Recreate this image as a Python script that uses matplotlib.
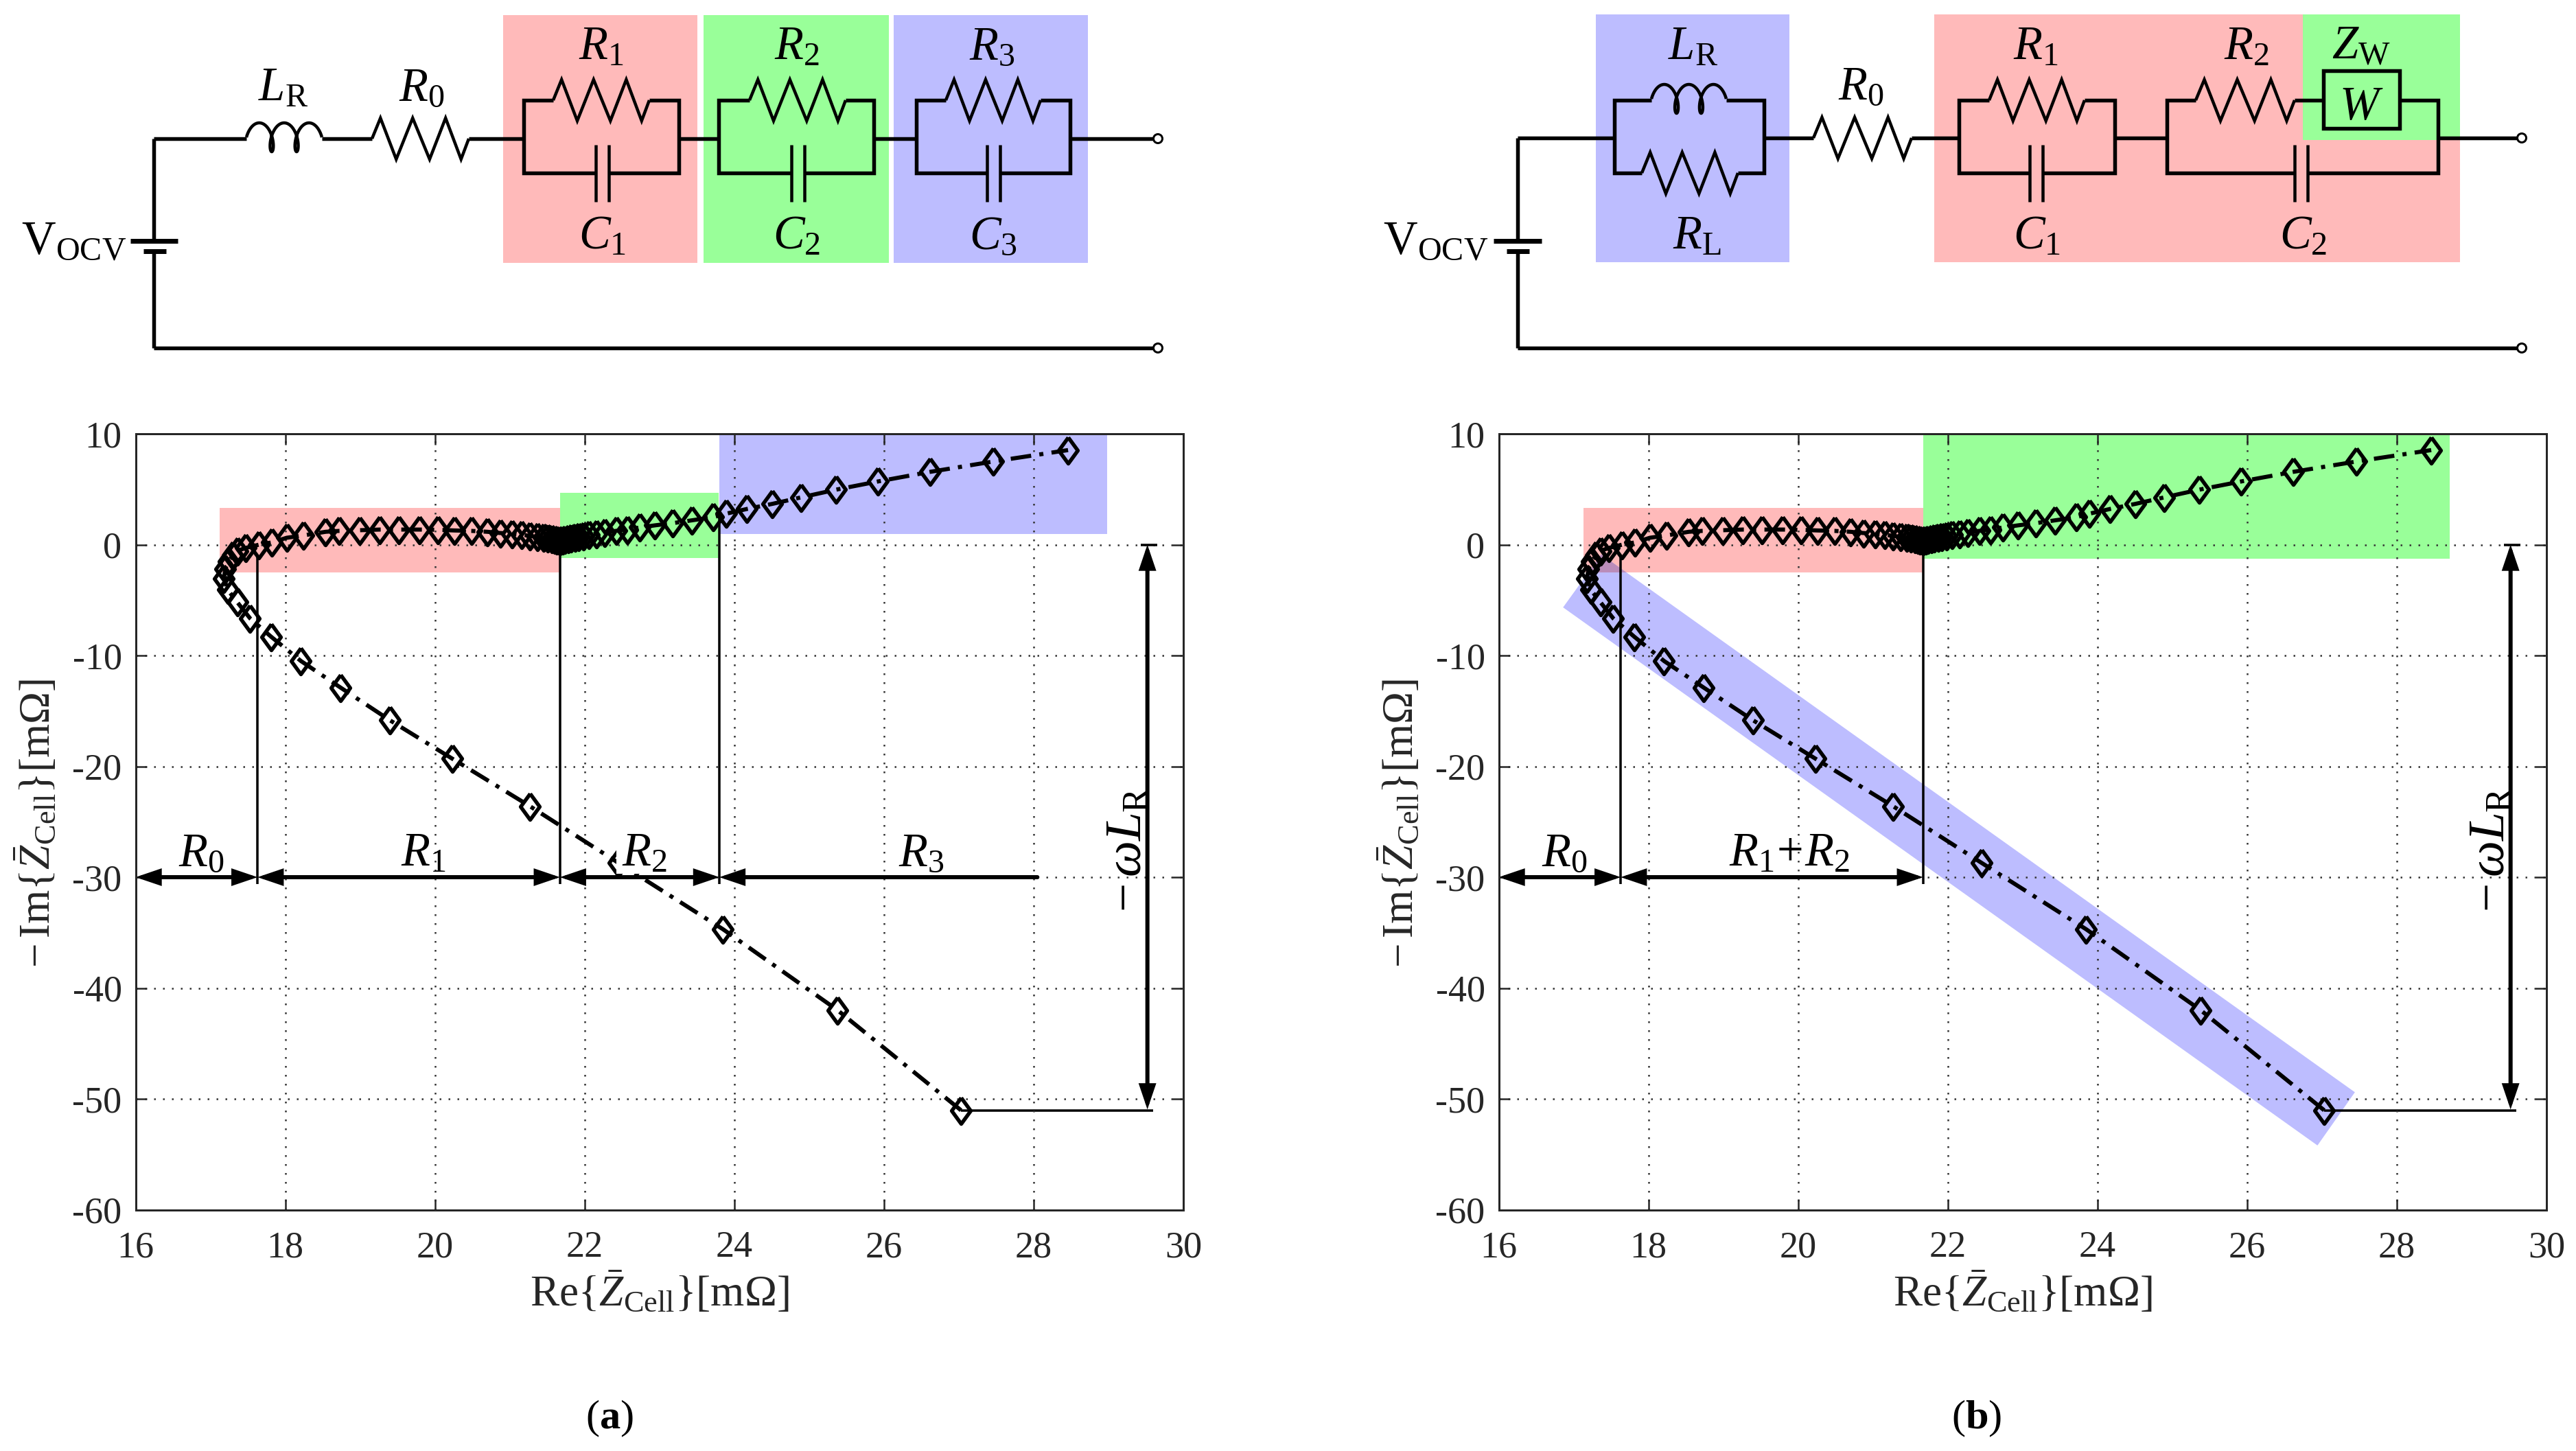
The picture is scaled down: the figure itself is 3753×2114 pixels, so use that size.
import numpy as np
import matplotlib
matplotlib.use("Agg")
import matplotlib.pyplot as plt
from matplotlib.markers import MarkerStyle
from matplotlib.patches import Rectangle, Polygon, Circle

plt.rcParams['font.family'] = ['Liberation Serif', 'DejaVu Serif']
plt.rcParams['mathtext.fontset'] = 'custom'
plt.rcParams['mathtext.rm'] = 'Liberation Serif'
plt.rcParams['mathtext.it'] = 'Liberation Serif:italic'
plt.rcParams['mathtext.bf'] = 'Liberation Serif:bold'

# ---------- data ----------
re_z = [27.03, 25.38, 23.85, 22.45, 21.27, 20.23, 19.40, 18.74, 18.21, 17.81, 17.53, 17.36, 17.23,
        17.18, 17.20, 17.24, 17.30, 17.36, 17.47, 17.65, 17.82, 18.02, 18.24, 18.54, 18.72, 18.99,
        19.26, 19.52, 19.79, 20.04, 20.26, 20.49, 20.70, 20.87, 21.03, 21.16, 21.27, 21.37, 21.45,
        21.51, 21.56, 21.60, 21.63, 21.65, 21.67, 21.69, 21.71, 21.74, 21.78, 21.82, 21.87, 21.92,
        21.98, 22.06, 22.16, 22.27, 22.42, 22.57, 22.74, 22.94, 23.18, 23.43, 23.72, 23.89, 24.17,
        24.51, 24.89, 25.36, 25.92, 26.62, 27.46, 28.46]
neg_im_z = [-51.03, -42.0, -34.7, -28.7, -23.6, -19.3, -15.85, -12.9, -10.5, -8.3, -6.65, -5.2, -4.07,
            -3.04, -2.17, -1.5, -0.97, -0.56, -0.3, 0.0, 0.2, 0.62, 0.83, 1.16, 1.24, 1.3,
            1.36, 1.36, 1.36, 1.34, 1.28, 1.24, 1.16, 1.05, 0.99, 0.89, 0.79, 0.7, 0.62,
            0.56, 0.5, 0.46, 0.42, 0.39, 0.37, 0.39, 0.42, 0.46, 0.52, 0.58, 0.66, 0.73,
            0.8, 0.89, 0.99, 1.1, 1.24, 1.36, 1.55, 1.74, 1.94, 2.19, 2.48, 2.79, 3.22,
            3.68, 4.26, 4.96, 5.7, 6.57, 7.5, 8.53]
x_ticks = [16, 18, 20, 22, 24, 26, 28, 30]
y_ticks = [-60, -50, -40, -30, -20, -10, 0, 10]
x_tick_labels = ["16", "18", "20", "22", "24", "26", "28", "30"]
y_tick_labels = ["-60", "-50", "-40", "-30", "-20", "-10", "0", "10"]
x_label = r"Re$\{\bar{Z}_{\mathrm{Cell}}\}$[m$\Omega$]"
y_label = r"$-\,$Im$\{\bar{Z}_{\mathrm{Cell}}\}$[m$\Omega$]"

# region bounds (x0, x1, y0, y1)
a_regions = [(17.12, 21.67, -2.48, 3.33, 'pink'), (21.67, 23.79, -1.18, 4.69, 'green'), (23.80, 28.98, 0.93, 10, 'blue')]
b_regions = [(17.13, 21.67, -2.48, 3.33, 'pink'), (21.67, 28.71, -1.24, 10, 'green')]
b_band = [(16.86, -5.66), (17.37, -0.89), (27.44, -49.4), (26.94, -54.2)]
a_spans = [(16.0, 17.63, r"$R_{\mathrm{0}}$", 16.88), (17.63, 21.67, r"$R_{\mathrm{1}}$", 19.85),
           (21.67, 23.80, r"$R_{\mathrm{2}}$", 22.80), (23.80, 28.05, r"$R_{\mathrm{3}}$", 26.50)]
b_spans = [(16.0, 17.63, r"$R_{\mathrm{0}}$", 16.88), (17.63, 21.67, r"$R_{\mathrm{1}}\!+\!R_{\mathrm{2}}$", 19.88)]

# ---------- style ----------
W, H = 3753, 2114
DPI = 300
PX = 72 / DPI
PINK, GREEN, BLUE, PURPLE = '#FFBABA', '#99FF99', '#BDBDFF', '#BA8CBA'
COL = {'pink': PINK, 'green': GREEN, 'blue': BLUE}
DARK = '#262626'
fig = plt.figure(figsize=(W / DPI, H / DPI), dpi=DPI)

bg = fig.add_axes([0, 0, 1, 1])
bg.set_xlim(0, W)
bg.set_ylim(H, 0)
bg.axis('off')
WIRE = 5.5 * PX
THIN = 4.5 * PX


def wire(xs, ys, lw=WIRE):
    bg.plot(xs, ys, color='k', lw=lw, solid_capstyle='butt', solid_joinstyle='miter', zorder=3)


def resistor(x0, x1, y, amp=30):
    f = np.array([0, .087, .25, .42, .595, .76, .92, 1.0])
    s = np.array([0, -1, 1, -1, 1, -1, 1, 0])
    wire(x0 + f * (x1 - x0), y + s * amp, lw=THIN)


def inductor(x0, x1, y):
    th = np.linspace(-np.pi / 2, 4.5 * np.pi, 300)
    b = 9.7
    c = ((x1 - x0) - 2 * b) / (5 * np.pi)
    wire(x0 + c * (th + np.pi / 2) + b * (np.sin(th) + 1), y - 2 - 21 * np.cos(th), lw=THIN)


def capacitor(xl, xr, y0, y1):
    wire([xl, xl], [y0, y1], lw=THIN)
    wire([xr, xr], [y0, y1], lw=THIN)


def rc_box(xl, xr, yt, yb, rl, rr, cl, cr, ymid=202):
    wire([rl, xl, xl, cl], [yt, yt, yb, yb])
    wire([rr, xr, xr, cr], [yt, yt, yb, yb])
    resistor(rl, rr, yt)
    capacitor(cl, cr, 211, 294)


def terminal(x, y):
    bg.add_patch(Circle((x, y), 6.5, fc='white', ec='k', lw=3 * PX, zorder=4))


def battery(x, ytop, ybot, long_x, short_x):
    wire([x, x], [ytop, 351])
    wire([x, x], [366, ybot])
    wire(long_x, [351, 351], lw=7 * PX)
    wire(short_x, [366, 366], lw=7 * PX)


def label(x, y, s, size=16.5, **kw):
    bg.text(x, y, s, fontsize=size, ha='center', va='baseline', color='k', zorder=5, **kw)


def rect(x0, x1, y0, y1, c):
    bg.add_patch(Rectangle((x0, y0), x1 - x0, y1 - y0, fc=c, ec='none', zorder=1))


# ---------- circuit (a) ----------
Y = 202
rect(733, 1016, 22, 383, PINK)
rect(1025, 1295, 22, 383, GREEN)
rect(1302, 1585, 22, 383, BLUE)
battery(224, Y, 507, [190, 259], [209, 242])
wire([224, 359], [Y, Y])
wire([224, 1681], [507, 507])
inductor(359, 469, Y)
wire([469, 542], [Y, Y])
resistor(542, 683, Y)
wire([683, 763], [Y, Y])
rc_box(763, 989, 146, 252, 806, 946, 868, 887)
wire([989, 1047], [Y, Y])
rc_box(1047, 1273, 146, 252, 1092, 1232, 1153, 1172)
wire([1273, 1335], [Y, Y])
rc_box(1335, 1559, 146, 252, 1378, 1516, 1438, 1457)
wire([1559, 1681], [Y, Y])
terminal(1687, Y)
terminal(1687, 507)
label(413, 146, r"$L_{\mathrm{R}}$")
label(614, 146, r"$R_{\mathrm{0}}$")
for xr, xc, s in [(876, 878, '1'), (1161, 1161, '2'), (1445, 1447, '3')]:
    label(xr, 86, rf"$R_{{\mathrm{{{s}}}}}$")
    label(xc, 362, rf"$C_{{\mathrm{{{s}}}}}$")
label(108, 370, r"$\mathrm{V}_{\mathrm{OCV}}$")

# ---------- circuit (b) ----------
rect(2325, 2607, 21, 382, BLUE)
rect(2818, 3584, 21, 382, PINK)
rect(3355, 3584, 21, 204, GREEN)
Y = 201
battery(2211, Y, 507, [2176, 2246], [2195, 2228])
wire([2211, 2352], [Y, Y])
wire([2211, 3668], [507, 507])
wire([2406, 2352, 2352, 2392], [146, 146, 252, 252])
wire([2515, 2570, 2570, 2532], [146, 146, 252, 252])
inductor(2406, 2515, 146)
resistor(2392, 2532, 252)
wire([2570, 2642], [Y, Y])
resistor(2642, 2785, Y)
wire([2785, 2854], [Y, Y])
rc_box(2854, 3081, 146, 252, 2898, 3037, 2957, 2976)
wire([3081, 3157], [Y, Y])
wire([3199, 3157, 3157, 3343], [146, 146, 252, 252])
wire([3362, 3552, 3552, 3496], [252, 252, 146, 146])
resistor(3199, 3343, 146)
capacitor(3343, 3362, 211, 294)
wire([3343, 3385], [146, 146])
bg.add_patch(Rectangle((3385, 103), 111, 84, fc='none', ec='k', lw=WIRE, zorder=3))
wire([3552, 3668], [Y, Y])
terminal(3674, Y)
terminal(3674, 507)
label(2467, 86, r"$L_{\mathrm{R}}$")
label(2472, 362, r"$R_{\mathrm{L}}$")
label(2711, 144, r"$R_{\mathrm{0}}$")
label(2966, 86, r"$R_{\mathrm{1}}$")
label(2968, 362, r"$C_{\mathrm{1}}$")
label(3273, 86, r"$R_{\mathrm{2}}$")
label(3356, 362, r"$C_{\mathrm{2}}$")
label(3440, 85, r"$Z_{\mathrm{W}}$")
label(3440, 174, r"$W$")
label(2092, 370, r"$\mathrm{V}_{\mathrm{OCV}}$")

# ---------- plots ----------
diamond = MarkerStyle([(0, 1), (0.73, 0), (0, -1), (-0.73, 0), (0, 1)], joinstyle='miter')
ARROW = "<|-|>,head_length=6.2,head_width=2.1"
ARROW_R = "<|-,head_length=6.2,head_width=2.1"
LAB = 16.5


def panel(left, regions, spans, vlines):
    ax = fig.add_axes([left / W, 1 - 1762.5 / H, 1526.5 / W, (1762.5 - 632) / H])
    ax.set_xlim(16, 30)
    ax.set_ylim(-60, 10)
    ax.set_xticks(x_ticks)
    ax.set_xticklabels(x_tick_labels)
    ax.set_yticks(y_ticks)
    ax.set_yticklabels(y_tick_labels)
    ax.tick_params(axis='both', direction='in', length=16 * PX, width=2.5 * PX, color=DARK,
                   top=True, right=True, labelsize=13, labelcolor=DARK)
    ax.tick_params(axis='x', pad=30 * PX)
    ax.tick_params(axis='y', pad=20 * PX)
    for sp in ax.spines.values():
        sp.set_linewidth(3 * PX)
        sp.set_color(DARK)
        sp.set_zorder(6)
    ax.patch.set_alpha(0)
    ax.set_axisbelow(False)
    ax.grid(True, color='#333333', lw=2.5 * PX, linestyle=(0, (1, 4.2)), zorder=1)
    for g in ax.get_xgridlines() + ax.get_ygridlines():
        g.set_zorder(1)
    for x0, x1, y0, y1, c in regions:
        ax.add_patch(Rectangle((x0, y0), x1 - x0, y1 - y0, fc=COL[c], ec='none', zorder=0.5))
    for x, top in vlines:
        ax.plot([x, x], [top, -30.6], color='k', lw=3.5 * PX, zorder=2, solid_capstyle='butt')
    ax.plot(re_z, neg_im_z, color='k', lw=6 * PX, dashes=(5, 2, 1, 2), zorder=3,
            marker=diamond, ms=38 * PX, mfc='none', mec='k', mew=5.5 * PX)
    for i, (x0, x1, s, xt) in enumerate(spans):
        style = ARROW_R if x1 == 28.05 else ARROW
        ax.annotate("", xy=(x1, -30), xytext=(x0, -30), zorder=5,
                    arrowprops=dict(arrowstyle=style, color='k', lw=6 * PX, shrinkA=0, shrinkB=0,
                                    mutation_scale=1, joinstyle='miter'))
        ax.text(xt, -28.95, s, fontsize=LAB, ha='center', va='baseline', color='k', zorder=5)
    ax.annotate("", xy=(29.52, 0), xytext=(29.52, -50.95), zorder=5,
                arrowprops=dict(arrowstyle=ARROW, color='k', lw=6 * PX, shrinkA=0, shrinkB=0,
                                mutation_scale=1, joinstyle='miter'))
    ax.plot([29.43, 29.65], [0, 0], color='k', lw=3.5 * PX, zorder=4, solid_capstyle='butt')
    ax.plot([27.03, 29.6], [-51.03, -51.03], color='k', lw=3.5 * PX, zorder=2, solid_capstyle='butt')
    ax.text(29.28, -27.5, r"$-\,\omega L_{\mathrm{R}}$", rotation=90, fontsize=18, ha='center',
            va='center', color='k', zorder=5)
    fig.text((left + 763) / W, 1 - 1903 / H, x_label, fontsize=15.2, ha='center', va='baseline', color=DARK)
    fig.text((left - 143) / W, 1 - 1200 / H, y_label, fontsize=15.2, ha='center', va='center',
             rotation=90, color=DARK)
    return ax


ax_a = panel(197.5, a_regions, a_spans, [(17.63, -1.0), (21.67, 0.3), (23.80, 2.5)])
ax_b = panel(2183.5, b_regions, b_spans, [(17.63, -1.0), (21.67, 0.3)])

# white box behind the R2 label in (a), as in the source figure
ax_a.add_patch(Rectangle((22.42, -29.7), 0.73, 3.7, fc='white', ec='none', zorder=3.5))

# blue band in (b), with the overlap on the pink region
ax_b.add_patch(Polygon(b_band, closed=True, fc=BLUE, ec='none', zorder=0.7))
clip_rect = Rectangle((17.13, -2.48), 4.54, 5.81, transform=ax_b.transData)
over = Polygon(b_band, closed=True, fc=PURPLE, ec='none', zorder=0.8)
ax_b.add_patch(over)
over.set_clip_path(clip_rect)

fig.text(888 / W, 1 - 2081 / H, r"($\mathbf{a}$)", fontsize=14.5, ha='center', va='baseline', color='k')
fig.text(2880 / W, 1 - 2081 / H, r"($\mathbf{b}$)", fontsize=14.5, ha='center', va='baseline', color='k')

fig.savefig("out.png", dpi=DPI)
